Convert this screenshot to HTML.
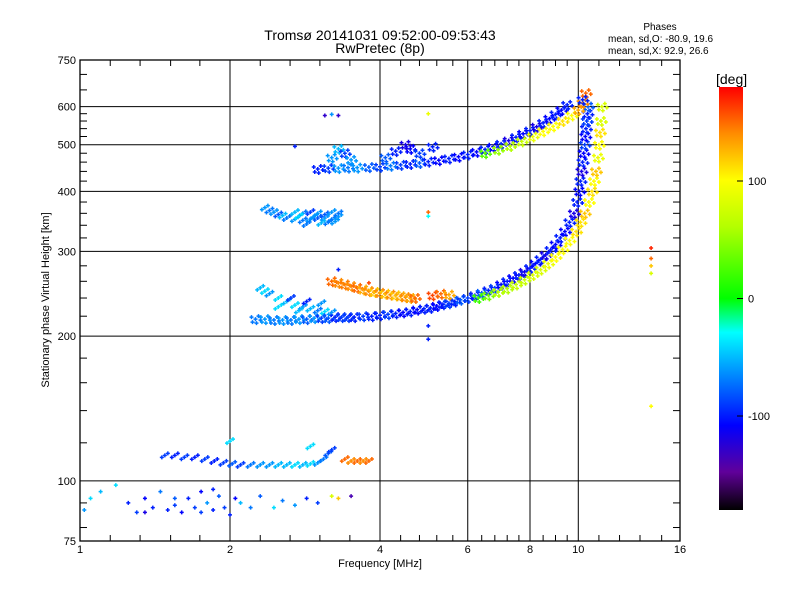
<!DOCTYPE html>
<html><head><meta charset="utf-8">
<style>
body{margin:0;background:#fff;}
svg{display:block;font-family:"Liberation Sans",sans-serif;}
</style></head>
<body>
<svg id="chart" width="800" height="600" viewBox="0 0 800 600">
<rect width="800" height="600" fill="#fff"/>
<text x="380" y="40" font-size="14" text-anchor="middle">Tromsø 20141031 09:52:00-09:53:43</text>
<text x="380" y="53" font-size="14" text-anchor="middle">RwPretec (8p)</text>
<text x="660" y="30" font-size="10" text-anchor="middle">Phases</text>
<text x="608" y="42" font-size="10">mean, sd,O: -80.9, 19.6</text>
<text x="608" y="54" font-size="10">mean, sd,X:  92.9, 26.6</text>
<g id="grid"></g>
<g id="points"></g>
<g id="axes"></g>
<text x="49" y="300" font-size="11" text-anchor="middle" transform="rotate(-90 49 300)">Stationary phase Virtual Height [km]</text>
<text x="380" y="567" font-size="11" text-anchor="middle">Frequency [MHz]</text>
<defs><linearGradient id="cb" x1="0" y1="1" x2="0" y2="0">
<stop offset="0" stop-color="#000"/><stop offset="0.09" stop-color="#60009a"/><stop offset="0.2" stop-color="#0000ff"/>
<stop offset="0.33" stop-color="#0096ff"/><stop offset="0.42" stop-color="#00ffff"/><stop offset="0.5" stop-color="#00ff00"/>
<stop offset="0.67" stop-color="#b4ff00"/><stop offset="0.78" stop-color="#ffff00"/><stop offset="0.89" stop-color="#ff8c00"/><stop offset="1" stop-color="#ff0000"/>
</linearGradient></defs>
<rect x="719" y="87" width="24" height="423" fill="url(#cb)"/>
<text x="716" y="84" font-size="14">[deg]</text>
<g id="cbticks"></g>
</svg>
<script>
// Axis definitions
const xTickLabels=[1,2,4,6,8,10,16];
const xGrid=[2,4,6,8,10];
const xMinor=[1.15,1.32,1.52,1.74,2.3,2.64,3.03,3.48,4.4,4.8,5.2,5.6,6.4,6.8,7.2,7.6,8.5,9.0,9.5,11,12.1,13.3,14.7];
const yTickLabels=[75,100,200,300,400,500,600,750];
const yGrid=[100,200,300,400,500,600];
const yMinor=[80,90,120,140,160,180,220,240,260,280,320,340,360,380,420,440,460,480,520,540,560,580,650,700];
const cbTicks=[100,0,-100];
// Series: [freq MHz, height km, phase deg]
const oLower=[[2.25,217,-70],[2.35,217,-60],[2.45,216,-70],[2.55,216,-60],[2.65,216,-70],[2.75,217,-60],[2.85,217,-80],[2.95,218,-60],[3.05,218,-90],[3.15,218,-80],[3.25,219,-100],[3.35,219,-90],[3.45,219,-90],[3.55,219,-100],[3.7,220,-90],[3.85,220,-100],[4.0,221,-100],[4.15,222,-90],[4.3,223,-100],[4.45,224,-110],[4.6,225,-100],[4.75,227,-110],[4.9,228,-100],[5.05,229,-100],[5.2,231,-110],[5.35,233,-100],[5.5,234,-90],[5.65,236,-100],[5.8,238,-80],[6.0,240,-90],[6.2,243,-100],[6.4,246,-80],[6.6,249,-100],[6.8,252,-90],[7.0,256,-110],[7.2,260,-100],[7.4,264,-110],[7.6,268,-100],[7.8,272,-120],[8.0,277,-100],[8.2,283,-110],[8.4,289,-100],[8.6,295,-120],[8.8,302,-100],[9.0,310,-110],[9.2,320,-100],[9.4,330,-110],[9.6,345,-100],[9.8,360,-120],[9.95,380,-100],[10.05,400,-110],[10.1,420,-100],[10.15,440,-120],[10.2,460,-100],[10.25,480,-110],[10.3,500,-90],[10.33,520,-110],[10.36,540,-100],[10.4,560,-90],[10.43,580,-100],[10.46,600,-80]];
const oCusp=[[2.3,252,-50],[2.35,248,-40],[2.4,245,-60],[2.5,240,-40],[2.6,236,-50],[2.7,232,-40],[2.8,230,-60],[2.9,228,-50],[3.0,226,-70],[3.1,225,-40],[3.2,224,-60],[2.65,240,-90],[2.85,236,-100],[3.05,234,-60],[2.5,230,-40],[2.75,226,-50]];
const xLower=[[3.2,260,150],[3.3,258,140],[3.4,256,145],[3.5,254,140],[3.6,252,150],[3.7,250,130],[3.8,248,140],[3.9,247,120],[4.0,246,140],[4.1,245,120],[4.2,244,140],[4.3,243,120],[4.4,242,130],[4.5,241,140],[4.6,240,130],[4.7,240,150],[5.1,243,160],[5.3,245,150],[5.5,244,130],[6.3,240,20],[6.6,243,40],[6.9,247,60],[7.2,251,60],[7.5,256,70],[7.8,262,70],[8.1,268,80],[8.4,275,80],[8.7,283,90],[9.0,292,100],[9.3,303,100],[9.6,316,100],[9.9,330,110],[10.1,345,110],[10.3,360,120],[10.5,380,100],[10.65,400,110],[10.75,420,100],[10.85,440,120],[10.95,470,90],[11.0,500,100],[11.05,530,110],[11.1,560,80],[11.15,600,80]];
const oUpper=[[3.0,445,-100],[3.15,447,-90],[3.3,447,-60],[3.45,448,-70],[3.6,448,-60],[3.8,449,-80],[4.0,450,-90],[4.2,452,-70],[4.4,454,-90],[4.6,456,-100],[4.8,458,-80],[5.0,461,-100],[5.25,464,-110],[5.5,468,-100],[5.75,472,-110],[6.0,477,-100],[6.25,483,-110],[6.5,489,-100],[6.75,495,-110],[7.0,502,-100],[7.25,510,-120],[7.5,518,-100],[7.75,527,-110],[8.0,535,-100],[8.25,545,-120],[8.5,555,-100],[8.75,566,-110],[9.0,578,-100],[9.25,590,-110],[9.5,605,-100],[3.2,470,-60],[3.3,490,-50],[3.4,480,-90],[3.5,465,-60],[4.1,470,-80],[4.3,485,-100],[4.6,490,-110],[4.8,480,-90],[5.1,495,-100],[4.5,500,-120]];
const xUpper=[[6.5,480,30],[6.9,488,50],[7.3,497,60],[7.7,508,70],[8.1,520,90],[8.5,533,100],[8.9,546,100],[9.3,560,110],[9.7,575,100],[10.0,590,130],[10.2,610,140],[10.35,640,150],[10.2,620,-100]];
const cluster=[[2.35,370,-60],[2.4,365,-70],[2.45,362,-60],[2.5,358,-80],[2.55,356,-50],[2.6,352,-70],[2.7,350,-60],[2.8,348,-70],[2.9,350,-60],[3.0,352,-80],[3.1,352,-60],[3.2,350,-70],[3.3,354,-60],[2.7,362,-50],[2.8,360,-70],[2.9,362,-90],[3.0,360,-60],[3.1,358,-80],[3.2,362,-60],[3.3,360,-70],[2.75,355,-40],[2.95,355,-60],[3.15,345,-70],[3.25,346,-60],[2.85,342,-70],[3.05,344,-50]];
const eLayer=[[1.48,113,-90],[1.55,113,-100],[1.62,112,-90],[1.7,112,-100],[1.78,111,-90],[1.86,110,-100],[1.94,109,-90],[2.02,108.5,-80],[2.1,108,-90],[2.2,108,-70],[2.3,108,-60],[2.4,108,-60],[2.5,108,-50],[2.6,108,-50],[2.7,108,-40],[2.8,108,-50],[2.9,108.5,-40],[3.0,109,-60],[3.08,111,-70],[3.15,114,-80],[3.2,116,-90],[3.4,111,150],[3.5,110,140],[3.6,110,150],[3.7,110,140],[3.8,110,150],[2.9,118,-40],[2.0,121,-40]];
const lowScatter=[[1.02,87,-60],[1.05,92,-40],[1.1,95,-50],[1.18,98,-40],[1.25,90,-100],[1.3,86,-90],[1.35,92,-110],[1.4,88,-100],[1.45,95,-70],[1.5,87,-100],[1.55,89,-90],[1.6,86,-110],[1.65,92,-100],[1.7,88,-90],[1.75,95,-110],[1.8,90,-60],[1.85,87,-100],[1.9,93,-80],[1.95,88,-90],[2.0,85,-100],[2.05,92,-110],[2.1,90,-50],[2.2,88,-70],[2.3,93,-80],[2.45,88,-40],[2.55,91,-70],[2.7,89,-60],[2.85,92,-100],[3.0,90,-90],[3.2,93,80],[3.3,92,120],[3.5,93,-140],[1.35,86,-120],[1.55,92,-80],[1.75,86,-90],[1.85,96,-100]];
const strays=[[3.1,575,-130],[3.2,578,-60],[3.3,575,-130],[5.0,580,90],[5.0,362,150],[5.0,355,-30],[5.0,210,-100],[5.0,197,-100],[3.8,258,160],[3.3,275,-100],[14.0,305,170],[14.0,290,150],[14.0,280,120],[14.0,270,80],[14.0,143,100],[2.7,496,-100]];
const allSeries=[oLower,oCusp,xLower,oUpper,xUpper,cluster,eLayer,lowScatter,strays];

const L=80,R=680,T=60,B=541;
const xs=f=>L+(R-L)*Math.log2(f)/4;
const ys=h=>B-(B-T)*Math.log10(h/75);
const NS="http://www.w3.org/2000/svg";
function mk(tag,attrs,parent){const e=document.createElementNS(NS,tag);for(const k in attrs)e.setAttribute(k,attrs[k]);parent.appendChild(e);return e;}
const stops=[[-180,[0,0,0]],[-150,[96,0,154]],[-110,[0,0,255]],[-60,[0,150,255]],[-30,[0,255,255]],[0,[0,255,0]],[60,[180,255,0]],[100,[255,255,0]],[140,[255,140,0]],[180,[255,0,0]]];
function cmap(p){for(let i=0;i<stops.length-1;i++){const a=stops[i],b=stops[i+1];if(p<=b[0]){const t=Math.max(0,(p-a[0])/(b[0]-a[0]));return 'rgb('+a[1].map((c,j)=>Math.round(c+(b[1][j]-c)*t)).join(',')+')';}}return 'rgb(255,0,0)';}

const grid=document.getElementById('grid');
xGrid.forEach(f=>{const l=mk('line',{x1:xs(f),x2:xs(f),y1:T,y2:B,stroke:'#000','stroke-width':1},grid);

});
yGrid.forEach(h=>{const l=mk('line',{x1:L,x2:R,y1:ys(h),y2:ys(h),stroke:'#000','stroke-width':1},grid);

});

const pts=document.getElementById('points');
const offsBig=[[0,0],[3,-3],[-3,3],[5,1],[-4,-2],[1,4]];
const offsMid=[[0,0],[3,-2],[-3,2]];
allSeries.forEach(s=>s.forEach(d=>{
  const cx=xs(d[0]),cy=ys(d[1]),col=cmap(d[2]);
  const big=s===oLower||s===xLower||s===oUpper||s===xUpper;
  const mid=s===oCusp||s===cluster||s===eLayer;
  (big?offsBig:(mid?offsMid:[[0,0]])).forEach(o=>{
    const g=mk('path',{d:`M${cx+o[0]-2},${cy+o[1]}h4M${cx+o[0]},${cy+o[1]-2}v4`,stroke:col,'stroke-width':1.5,fill:'none'},pts);
    
    
  });
}));

const ax=document.getElementById('axes');
const frame=mk('rect',{x:L,y:T,width:R-L,height:B-T,fill:'none',stroke:'#000','stroke-width':1.3},ax);


xMinor.forEach(f=>{const x=xs(f);
const t1=mk('line',{x1:x,x2:x,y1:T,y2:T+6,stroke:'#000'},ax);


const t2=mk('line',{x1:x,x2:x,y1:B,y2:B-6,stroke:'#000'},ax);

});
yMinor.forEach(h=>{const y=ys(h);
const t1=mk('line',{x1:L,x2:L+7,y1:y,y2:y,stroke:'#000'},ax);


const t2=mk('line',{x1:R,x2:R-7,y1:y,y2:y,stroke:'#000'},ax);

});
xTickLabels.forEach(f=>{const t=mk('text',{x:xs(f),y:553,'font-size':11,'text-anchor':'middle'},ax);t.textContent=f;

});
yTickLabels.forEach(h=>{const t=mk('text',{x:76,y:ys(h)+4,'font-size':11,'text-anchor':'end'},ax);t.textContent=h;

});

const cb=document.getElementById('cbticks');
const cbY=p=>510-(p+180)/360*423;
cbTicks.forEach(p=>{const y=cbY(p);
const l=mk('line',{x1:737,x2:743,y1:y,y2:y,stroke:'#000'},cb);


const t=mk('text',{x:748,y:y+4,'font-size':11},cb);t.textContent=p;

});
</script>
</body></html>
